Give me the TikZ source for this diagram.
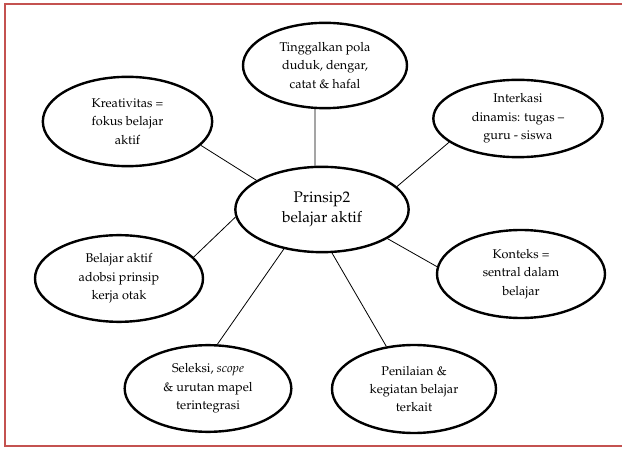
\documentclass[tikz,border=0pt]{standalone}
\usepackage[T1]{fontenc}
\usepackage{mathpazo}
\usetikzlibrary{shapes.geometric}
\definecolor{framered}{RGB}{196,82,80}
\tikzset{
  idea/.style 2 args={ellipse, draw, line width=1.8pt, inner sep=0pt,
    minimum width=#1, minimum height=#2, align=center,
    font=\fontsize{9.5}{13.8}\selectfont},
  link/.style={line width=0.6pt}
}

\begin{document}
\begin{tikzpicture}[x=0.75pt, y=-0.75pt]
        \useasboundingbox (0,0) rectangle (622,449);
        \draw [framered, line width=2pt] (5,4) rectangle (630,446);

        \node [idea={130pt}{64pt}, font=\fontsize{11.5}{15.5}\selectfont] (pusat) at (322,209.5) {Prinsip2\\belajar aktif};

        \node [idea={123pt}{64pt}] (pola) at (325,65.5) {Tinggalkan pola\\duduk, dengar,\\catat \& hafal};
        \node [idea={127pt}{67pt}] (kreatif) at (127.5,121.5) {Kreativitas =\\fokus belajar\\aktif};
        \node [idea={127pt}{58pt}] (interaksi) at (518,118.5) {Interkasi\\dinamis: tugas --\\guru - siswa};
        \node [idea={126pt}{65pt}] (otak) at (119,278.5) {Belajar aktif\\adobsi prinsip\\kerja otak};
        \node [idea={126pt}{66pt}] (konteks) at (521,274) {Konteks =\\sentral dalam\\belajar};
        \node [idea={125pt}{65pt}] (seleksi) at (208,388.5) {Seleksi, \textit{scope}\\\& urutan mapel\\terintegrasi};
        \node [idea={123pt}{66pt}] (nilai) at (414,389) {Penilaian \&\\kegiatan belajar\\terkait};

        % connectors, angles
        \draw [link] (pola.257) -- (pusat.99);
        \draw [link] (kreatif.342) -- (pusat.156);
        \draw [link] (interaksi.199) -- (pusat.17);
        \draw [link] (otak.16) -- (pusat.185);
        \draw [link] (konteks.175) -- (pusat.336);
        \draw [link] (seleksi.78) -- (pusat.226);
        \draw [link] (nilai.123) -- (pusat.283);
      \end{tikzpicture}
\end{document}
